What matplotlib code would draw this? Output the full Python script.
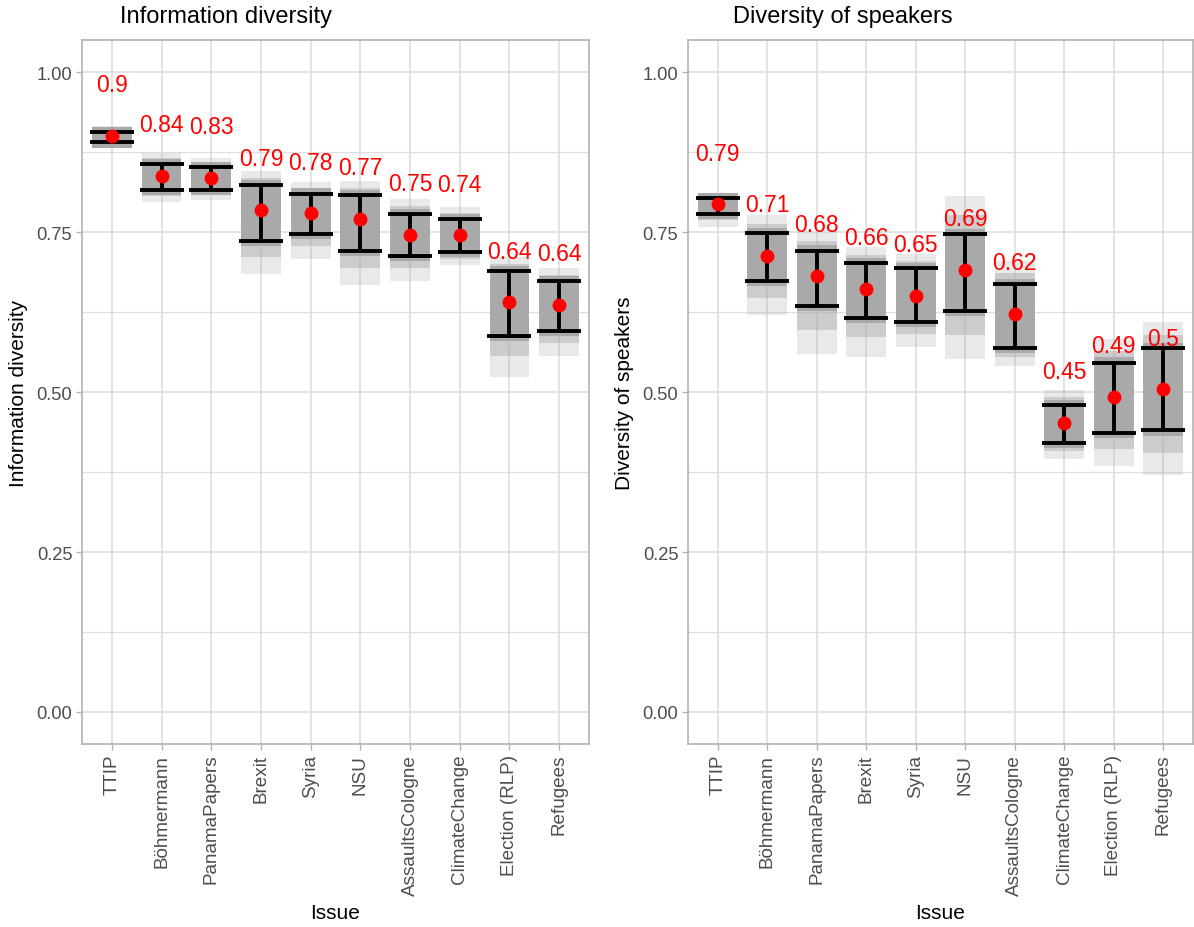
import matplotlib
matplotlib.use("Agg")
import matplotlib.pyplot as plt
from matplotlib.patches import Rectangle
from matplotlib.ticker import MultipleLocator
import numpy as np

plt.rcParams['font.family'] = ['Liberation Sans', 'DejaVu Sans']

issues = ["TTIP", "Böhmermann", "PanamaPapers", "Brexit", "Syria", "NSU",
          "AssaultsCologne", "ClimateChange", "Election (RLP)", "Refugees"]

# Information diversity
info_mean = [0.900, 0.838, 0.835, 0.785, 0.779, 0.771, 0.746, 0.745, 0.640, 0.636]
info_upper = [0.906, 0.856, 0.852, 0.824, 0.810, 0.808, 0.778, 0.770, 0.689, 0.673]
info_lower = [0.890, 0.816, 0.816, 0.736, 0.747, 0.720, 0.712, 0.719, 0.588, 0.596]
info_cloud_hi = [0.916, 0.874, 0.865, 0.845, 0.828, 0.830, 0.802, 0.789, 0.711, 0.693]
info_cloud_lo = [0.882, 0.797, 0.800, 0.685, 0.708, 0.667, 0.674, 0.698, 0.524, 0.557]
info_labels = ["0.9", "0.84", "0.83", "0.79", "0.78", "0.77", "0.75", "0.74", "0.64", "0.64"]

# Diversity of speakers
spk_mean = [0.793, 0.713, 0.682, 0.661, 0.650, 0.691, 0.622, 0.452, 0.492, 0.504]
spk_upper = [0.803, 0.748, 0.721, 0.702, 0.694, 0.747, 0.668, 0.480, 0.546, 0.568]
spk_lower = [0.778, 0.673, 0.634, 0.616, 0.610, 0.626, 0.569, 0.421, 0.436, 0.440]
spk_cloud_hi = [0.811, 0.776, 0.750, 0.727, 0.716, 0.807, 0.705, 0.503, 0.583, 0.610]
spk_cloud_lo = [0.758, 0.620, 0.560, 0.555, 0.571, 0.552, 0.540, 0.396, 0.385, 0.370]
spk_labels = ["0.79", "0.71", "0.68", "0.66", "0.65", "0.69", "0.62", "0.45", "0.49", "0.5"]

W, H = 1194, 928
fig = plt.figure(figsize=(W / 100, H / 100), dpi=100)

def px_axes(x0, y0, x1, y1):
    return fig.add_axes([x0 / W, 1 - y1 / H, (x1 - x0) / W, (y1 - y0) / H])

gray_txt = "#4D4D4D"
grid_col = "#DEDEDE"
border_col = "#B3B3B3"
cloud_col = "#A9A9A9"

def panel(ax, title, ylabel, mean, upper, lower, chi, clo, labels, title_x):
    x = np.arange(1, len(issues) + 1)
    ax.set_xlim(0.4, len(issues) + 0.6)
    ax.set_ylim(-0.05, 1.05)
    ax.set_axisbelow(True)
    ax.yaxis.set_major_locator(MultipleLocator(0.25))
    ax.yaxis.set_minor_locator(MultipleLocator(0.125))
    ax.set_xticks(x)
    ax.set_xticklabels(issues, rotation=90, color=gray_txt, fontsize=13.6)
    ax.set_yticks([0, 0.25, 0.5, 0.75, 1.0])
    ax.set_yticklabels(["0.00", "0.25", "0.50", "0.75", "1.00"], color=gray_txt, fontsize=13.2)
    ax.grid(which="major", color=grid_col, linewidth=1.2)
    ax.grid(which="minor", axis="y", color=grid_col, linewidth=0.9)
    ax.tick_params(which="major", length=4, color=border_col, width=1, pad=3)
    ax.tick_params(which="minor", length=0)
    for s in ax.spines.values():
        s.set_color(border_col)
        s.set_linewidth(1.2)
    jw = 0.4
    for xi, m, u, l, ch, cl in zip(x, mean, upper, lower, chi, clo):
        ax.add_patch(Rectangle((xi - jw, cl), 2 * jw, ch - cl, facecolor=cloud_col,
                               alpha=0.25, edgecolor="none", zorder=2))
        mid_lo = (cl + l) / 2
        mid_hi = (ch + u) / 2
        ax.add_patch(Rectangle((xi - jw, mid_lo), 2 * jw, mid_hi - mid_lo, facecolor=cloud_col,
                               alpha=0.45, edgecolor="none", zorder=2))
        ax.add_patch(Rectangle((xi - jw, l - 0.008), 2 * jw, u - l + 0.016, facecolor=cloud_col,
                               edgecolor="none", zorder=2))
    ax.errorbar(x, mean, yerr=[np.array(mean) - np.array(lower), np.array(upper) - np.array(mean)],
                fmt="none", ecolor="black", elinewidth=2.8, capsize=16, capthick=2.8, zorder=3)
    ax.plot(x, mean, "o", color="red", markersize=10, markeredgewidth=0, zorder=4)
    for xi, m, t in zip(x, mean, labels):
        ax.text(xi, m + 0.08, t, color="red", fontsize=16.5, ha="center", va="center", zorder=5)
    ax.set_xlabel("Issue", fontsize=15, color="black", labelpad=6)
    ax.set_ylabel(ylabel, fontsize=15, color="black", labelpad=6)
    fig.text(title_x / W, 1 - 17 / H, title, fontsize=17, ha="left", va="center", color="black")

ax1 = px_axes(82, 41, 589, 745)
panel(ax1, "Information diversity", "Information diversity", info_mean, info_upper, info_lower,
      info_cloud_hi, info_cloud_lo, info_labels, 120)
ax2 = px_axes(688, 41, 1193, 745)
panel(ax2, "Diversity of speakers", "Diversity of speakers", spk_mean, spk_upper, spk_lower,
      spk_cloud_hi, spk_cloud_lo, spk_labels, 733)

fig.savefig("out.png", dpi=100, facecolor="white")
